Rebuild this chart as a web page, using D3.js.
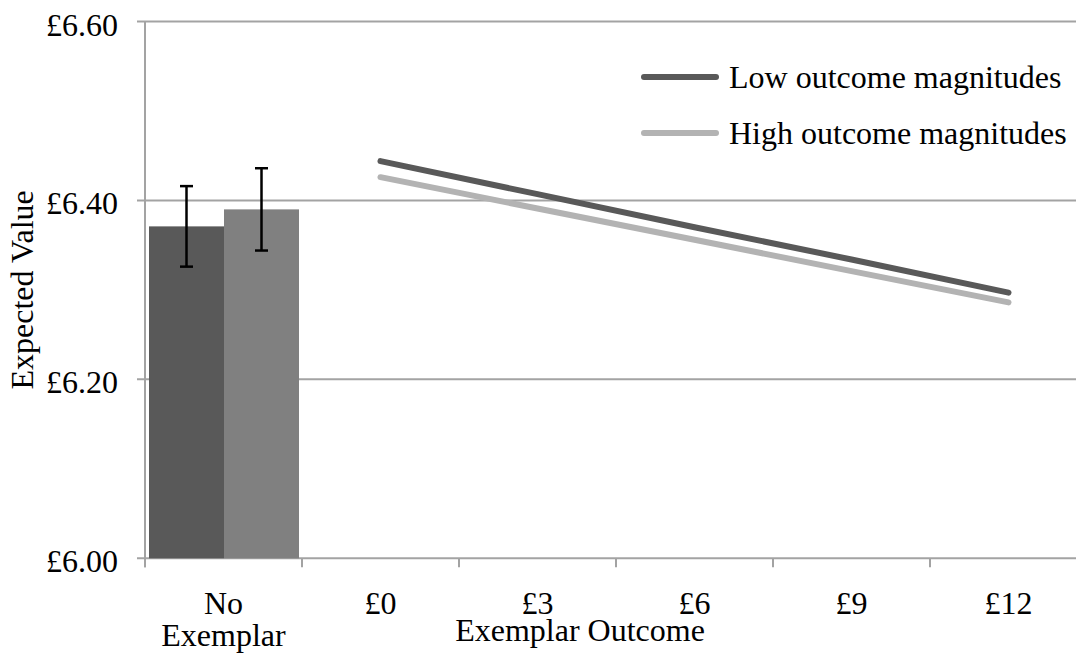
<!DOCTYPE html>
<html>
<head>
<meta charset="utf-8">
<script src="https://cdn.jsdelivr.net/npm/d3@7"></script>
<style>
  html, body { margin: 0; padding: 0; background: #fff; }
  svg { display: block; }
  text { font-family: "Liberation Serif", "Times New Roman", serif; fill: #000; }
</style>
</head>
<body>
<svg id="chart" width="1076" height="656"></svg>
<script>
// Categories along the x axis
const categories = ["No Exemplar", "£0", "£3", "£6", "£9", "£12"];
const outcomeCategories = ["£0", "£3", "£6", "£9", "£12"];

// Baseline (no exemplar) bars with standard errors
const barSeries = ["Low outcome magnitudes", "High outcome magnitudes"];
const barValues = [6.371, 6.390];
const barErrors = [0.045, 0.046];

// Expected value by exemplar outcome
const lowValues = [6.444, 6.407, 6.370, 6.334, 6.297];
const highValues = [6.426, 6.391, 6.356, 6.321, 6.286];

const yTicks = [6.0, 6.2, 6.4, 6.6];

const svg = d3.select("#chart");
const plotLeft = 145, bandW = 157, plotTop = 21.5, plotBottom = 558.3;
const fontSize = 32;

const x = d3.scaleBand().domain(categories).range([plotLeft, plotLeft + bandW * categories.length]);
const y = d3.scaleLinear().domain([6.0, 6.6]).range([plotBottom, plotTop]);

const gridColor = "#a3a3a3";
const barColors = ["#595959", "#808080"];
const lineColors = ["#595959", "#b3b3b3"];

// Horizontal gridlines
svg.append("g").selectAll("line").data(yTicks).join("line")
  .attr("x1", plotLeft - 8).attr("x2", x.range()[1])
  .attr("y1", d => y(d)).attr("y2", d => y(d))
  .attr("stroke", gridColor).attr("stroke-width", 2);

// Y axis line
svg.append("line")
  .attr("x1", plotLeft).attr("x2", plotLeft).attr("y1", plotTop).attr("y2", plotBottom + 9)
  .attr("stroke", gridColor).attr("stroke-width", 2);

// X axis tick marks at band edges
const edges = categories.map(c => x(c)).concat([x.range()[1]]);
svg.append("g").selectAll("line").data(edges).join("line")
  .attr("x1", d => d).attr("x2", d => d)
  .attr("y1", plotBottom).attr("y2", plotBottom + 9)
  .attr("stroke", gridColor).attr("stroke-width", 2);

// Y tick labels
svg.append("g").selectAll("text").data(yTicks).join("text")
  .attr("x", 118).attr("y", d => y(d) + 14)
  .attr("text-anchor", "end").attr("font-size", fontSize)
  .text(d => "£" + d3.format(".2f")(d));

// Baseline bars
const inner = d3.scaleBand().domain(barSeries).range([x("No Exemplar") + 4, x("No Exemplar") + bandW - 3]);
const bars = barSeries.map((s, i) => ({ s, v: barValues[i], e: barErrors[i], c: barColors[i] }));
svg.append("g").selectAll("rect").data(bars).join("rect")
  .attr("x", d => inner(d.s)).attr("width", inner.bandwidth())
  .attr("y", d => y(d.v)).attr("height", d => y(6.0) - y(d.v))
  .attr("fill", d => d.c);

// Error bars
const eb = svg.append("g").attr("stroke", "#000").attr("stroke-width", 2.5);
bars.forEach(d => {
  const cx = inner(d.s) + inner.bandwidth() / 2;
  eb.append("line").attr("x1", cx).attr("x2", cx).attr("y1", y(d.v + d.e)).attr("y2", y(d.v - d.e));
  eb.append("line").attr("x1", cx - 6.5).attr("x2", cx + 6.5).attr("y1", y(d.v + d.e)).attr("y2", y(d.v + d.e));
  eb.append("line").attr("x1", cx - 6.5).attr("x2", cx + 6.5).attr("y1", y(d.v - d.e)).attr("y2", y(d.v - d.e));
});

// Outcome lines
const line = d3.line().x((d, i) => x(outcomeCategories[i]) + bandW / 2).y(d => y(d));
[highValues, lowValues].forEach((vals, k) => {
  svg.append("path").datum(vals)
    .attr("d", line).attr("fill", "none")
    .attr("stroke", k === 0 ? lineColors[1] : lineColors[0])
    .attr("stroke-width", 6).attr("stroke-linecap", "round");
});

// X tick labels
const xl = svg.append("g").attr("font-size", fontSize).attr("text-anchor", "middle");
categories.forEach(c => {
  const cx = x(c) + bandW / 2;
  const t = xl.append("text").attr("x", cx).attr("y", 614);
  if (c === "No Exemplar") {
    t.append("tspan").attr("x", cx).text("No");
    t.append("tspan").attr("x", cx).attr("dy", 32).text("Exemplar");
  } else {
    t.text(c);
  }
});

// Axis titles
svg.append("text").attr("x", 580).attr("y", 641).attr("text-anchor", "middle")
  .attr("font-size", fontSize).text("Exemplar Outcome");
svg.append("text").attr("transform", `translate(33,${(plotTop + plotBottom) / 2}) rotate(-90)`)
  .attr("text-anchor", "middle").attr("font-size", fontSize).text("Expected Value");

// Legend
const legend = svg.append("g");
const legendItems = [
  { label: "Low outcome magnitudes", color: lineColors[0], y: 77 },
  { label: "High outcome magnitudes", color: lineColors[1], y: 133 }
];
legendItems.forEach(d => {
  legend.append("line").attr("x1", 644).attr("x2", 716).attr("y1", d.y).attr("y2", d.y)
    .attr("stroke", d.color).attr("stroke-width", 6).attr("stroke-linecap", "round");
  legend.append("text").attr("x", 729).attr("y", d.y + 11).attr("font-size", fontSize).text(d.label);
});
</script>
</body>
</html>
